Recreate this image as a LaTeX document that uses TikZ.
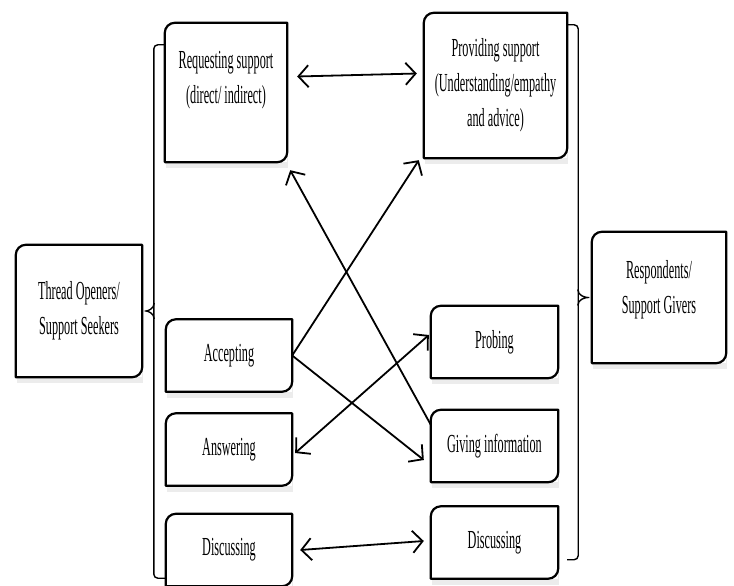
\documentclass[tikz,border=0pt]{standalone}
\usepackage{fontspec}
\usetikzlibrary{positioning,shadows,arrows.meta}
\newfontfamily\narrowserif[FakeStretch=0.47]{Liberation Serif}

\begin{document}
\begin{tikzpicture}[x=1pt,y=1pt,node distance=94pt,>={Straight Barb[length=10pt,width=22pt]},
    rolebox/.style={font=\narrowserif\fontsize{26}{35}\selectfont,align=center,fill=white,inner sep=0pt,
        drop shadow={shadow xshift=1pt,shadow yshift=-6pt,opacity=0.15}},
    actbox/.style={rolebox,minimum width=126pt,minimum height=72pt},
    boxline/.style={line width=2.2pt,line join=round},
    bracket/.style={line width=1.4pt,rounded corners=4pt},
    conn/.style={line width=1.8pt}]
    \useasboundingbox (0,0) rectangle (734,-586);

    \node[rolebox,minimum width=126pt,minimum height=132pt] (thread) at (79,-311) {Thread Openers/\\Support Seekers};
    \node[rolebox,minimum width=122pt,minimum height=139pt] (request) at (226,-92.5) {Requesting support\\(direct/ indirect)\\[-4pt]\mbox{}};
    \node[actbox] (accept) at (229,-355.5) {Accepting};
    \node[actbox,below of=accept] (answer) {Answering};
    \node[actbox,below of=answer,node distance=100.5pt] (discussL) {Discussing};

    \node[rolebox,minimum width=143pt,minimum height=145pt] (provide) at (495.5,-85.5) {Providing support\\(Understanding/empathy\\and advice)};
    \node[actbox,minimum width=127pt] (probe) at (494.5,-342) {Probing};
    \node[actbox,minimum width=127pt,below of=probe,node distance=104pt] (give) {Giving information};
    \node[actbox,minimum width=127pt,below of=give,node distance=96.5pt] (discussR) {Discussing};
    \node[rolebox,minimum width=134pt,minimum height=131pt] (respond) at (659,-297.5) {Respondents/\\Support Givers\\[-13pt]\mbox{}};

    % box outlines: rounded top left and bottom right
    \foreach \n in {thread,request,accept,answer,discussL,provide,probe,give,discussR,respond}
        \draw[boxline] (\n.south west) -- ([yshift=-10pt]\n.north west) arc[start angle=180,end angle=90,radius=10pt]
            -- (\n.north east) -- ([yshift=10pt]\n.south east) arc[start angle=0,end angle=-90,radius=10pt] -- cycle;

    % brackets
    \draw[bracket] ([yshift=-22pt]request.north west) -- ++(-11,0) |- ([yshift=8pt]discussL.south west);
    \draw[bracket] ([xshift=12pt,yshift=8pt]thread.east) to[out=-90,in=0] (thread.east) to[out=0,in=90] ([xshift=12pt,yshift=-8pt]thread.east);
    \draw[bracket] ([yshift=-12pt]provide.north east) -- ++(11,0) |- ([xshift=9pt,yshift=19pt]discussR.south east);
    \draw[bracket] ([xshift=-14pt,yshift=8pt]respond.west) to[out=-90,in=180] (respond.west) to[out=180,in=90] ([xshift=-14pt,yshift=-8pt]respond.west);

    \draw[conn,<->] ([xshift=10pt,yshift=16pt]request.east) -- ([xshift=-7pt,yshift=12pt]provide.west);
    \draw[conn,->] ([yshift=-15pt]give.north west) -- ([xshift=3pt,yshift=-8pt]request.south east);
    \draw[conn,->] (accept.east) -- ([xshift=-5pt,yshift=-2pt]provide.south west);
    \draw[conn,->] (accept.east) -- ([xshift=-7pt,yshift=-14pt]give.west);
    \draw[conn,<->] ([xshift=3pt,yshift=-3.5pt]answer.east) -- ([xshift=-2pt,yshift=7pt]probe.west);
    \draw[conn,<->] ([xshift=8pt]discussL.east) -- ([xshift=-7pt,yshift=1.5pt]discussR.west);
\end{tikzpicture}
\end{document}
